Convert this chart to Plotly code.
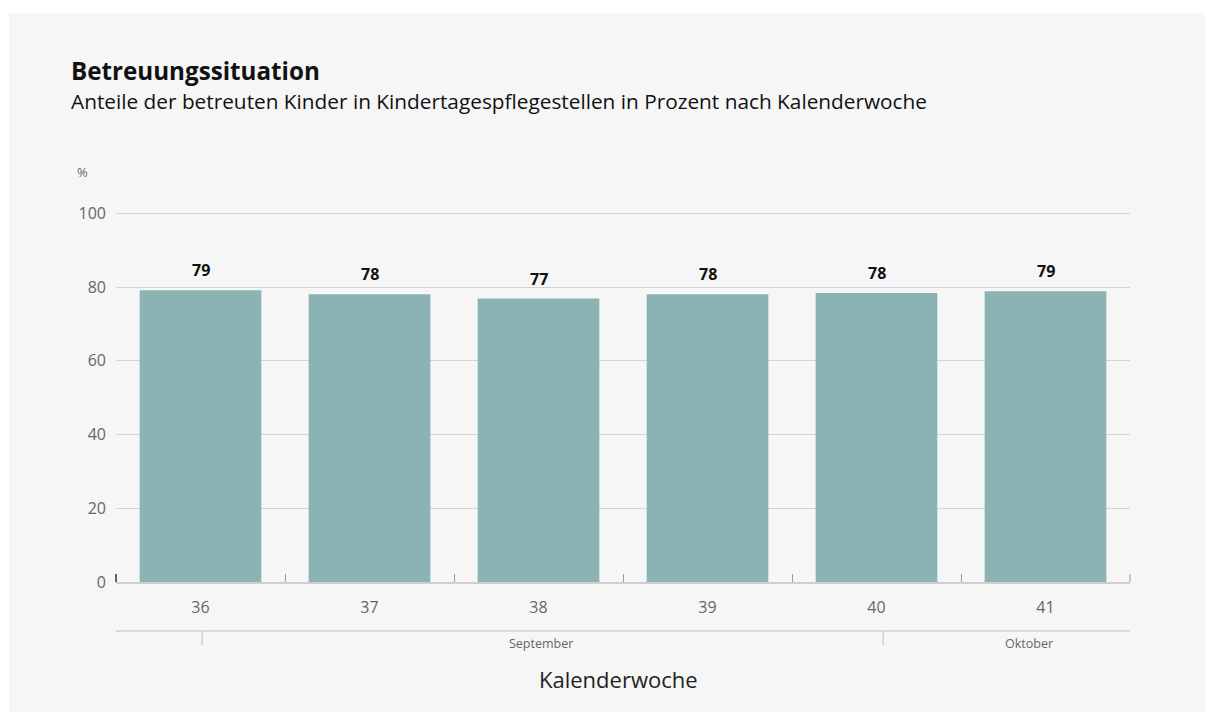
import plotly.graph_objects as go

# Data
weeks = ["36", "37", "38", "39", "40", "41"]
shares = [79.2, 78.1, 76.9, 78.1, 78.4, 78.9]
share_labels = ["79", "78", "77", "78", "78", "79"]
y_ticks = [0, 20, 40, 60, 80, 100]
months = ["September", "Oktober"]
month_starts = [0.01, 4.04]      # position in week-category units
month_label_pos = [2.015, 4.9]

OFF = 8  # page body margin
W, H = 1215 - 2 * OFF, 723 - 2 * OFF
L, R, T, B = 116 - OFF, 1215 - 1130 - OFF, 212 - OFF, 723 - 582 - OFF
pw, ph = W - L - R, H - T - B

def px_x(px):
    return (px - OFF - L) / pw

def px_y(py):
    return (H - B - (py - OFF)) / ph

FONT = "Open Sans"
panel = "#f6f6f6"

fig = go.Figure()
fig.add_trace(go.Bar(
    x=weeks, y=shares,
    marker=dict(color="#8cb3b3", line=dict(width=0)),
    hoverinfo="skip",
))

shapes = [
    # gray panel
    dict(type="rect", xref="paper", yref="paper", layer="below",
         x0=px_x(9), x1=px_x(1205), y0=px_y(712), y1=px_y(13),
         fillcolor=panel, line=dict(width=0)),
    # month axis line
    dict(type="line", xref="paper", yref="paper",
         x0=0, x1=1, y0=px_y(631), y1=px_y(631),
         line=dict(color="#d0d0d0", width=1.5)),
    # edge ticks of the week axis
    dict(type="line", xref="paper", yref="paper",
         x0=0, x1=0, y0=0, y1=px_y(574),
         line=dict(color="#333333", width=1.5)),
    dict(type="line", xref="paper", yref="paper",
         x0=1, x1=1, y0=0, y1=px_y(574),
         line=dict(color="#999999", width=1)),
]
for s in month_starts:
    shapes.append(dict(type="line", xref="x", yref="paper",
                       x0=s, x1=s, y0=px_y(631), y1=px_y(645),
                       line=dict(color="#d0d0d0", width=1.5)))

annotations = [
    dict(text="<b>Betreuungssituation</b>", xref="paper", yref="paper",
         x=px_x(69), y=px_y(71), xanchor="left", yanchor="middle", showarrow=False,
         font=dict(family=FONT, size=24.2, color="#111111")),
    dict(text="Anteile der betreuten Kinder in Kindertagespflegestellen in Prozent nach Kalenderwoche",
         xref="paper", yref="paper", x=px_x(69), y=px_y(101), xanchor="left", yanchor="middle",
         showarrow=False, font=dict(family=FONT, size=20.8, color="#111111")),
    dict(text="%", xref="paper", yref="paper", x=px_x(82), y=px_y(172),
         xanchor="center", yanchor="middle", showarrow=False,
         font=dict(family=FONT, size=13, color="#666666")),
    dict(text="Kalenderwoche", xref="paper", yref="paper", x=px_x(618), y=px_y(679),
         xanchor="center", yanchor="middle", showarrow=False,
         font=dict(family=FONT, size=22, color="#222222")),
]
for i, (v, lab) in enumerate(zip(shares, share_labels)):
    annotations.append(dict(text="<b>" + lab + "</b>", xref="x", yref="y", x=i, y=v,
                            xanchor="center", yanchor="bottom", yshift=7, showarrow=False,
                            font=dict(family=FONT, size=16, color="#111111")))
for m, p in zip(months, month_label_pos):
    annotations.append(dict(text=m, xref="x", yref="paper", x=p, y=px_y(643),
                            xanchor="center", yanchor="middle", showarrow=False,
                            font=dict(family=FONT, size=12.5, color="#666666")))

fig.update_layout(
    width=W, height=H,
    margin=dict(l=L, r=R, t=T, b=B, pad=0),
    paper_bgcolor="white", plot_bgcolor=panel,
    bargap=0.28, showlegend=False,
    shapes=shapes, annotations=annotations,
    font=dict(family=FONT),
    xaxis=dict(type="category", range=[-0.5, len(weeks) - 0.5],
               showgrid=False, showline=True, linecolor="#cfcfcf", linewidth=1.5,
               ticks="inside", tickson="boundaries", ticklen=8, tickcolor="#999999", tickwidth=1,
               tickfont=dict(family=FONT, size=16, color="#666666"), ticklabelstandoff=10,
               fixedrange=True),
    yaxis=dict(range=[0, 100.4], tickvals=y_ticks, showgrid=True, gridcolor="#d3d3d3", gridwidth=1,
               zeroline=False, showline=False, ticks="",
               tickfont=dict(family=FONT, size=16, color="#666666"), ticklabelstandoff=9,
               fixedrange=True),
)

fig.write_html("out.html")
